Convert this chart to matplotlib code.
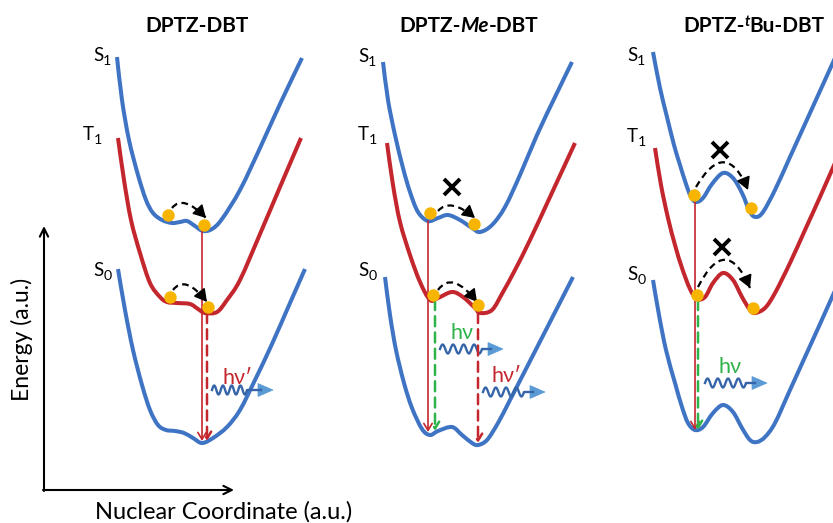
import numpy as np
import matplotlib.pyplot as plt
from matplotlib.path import Path
from matplotlib.patches import PathPatch, Polygon

plt.rcParams['font.family'] = ['Lato', 'DejaVu Sans']

BLUE = '#3f74c4'
RED = '#c4262e'
GOLD = '#f7b500'
GREEN = '#2db34a'
WAVE = '#3565a8'
WAVE_HEAD = '#5b9bd5'

# panel titles: (text, weight, style, size factor, baseline shift)
titles = [
    [('DPTZ-DBT', 'bold', 'normal', 1.0, 0)],
    [('DPTZ-', 'bold', 'normal', 1.0, 0), ('Me', 'bold', 'italic', 1.0, 0),
     ('-DBT', 'bold', 'normal', 1.0, 0)],
    [('DPTZ-', 'bold', 'normal', 1.0, 0), ('t', 'bold', 'italic', 0.7, -6),
     ('Bu-DBT', 'bold', 'normal', 1.0, 0)],
]
title_left = [145, 399, 683]

# potential energy curves (pixels, y downwards)
s1_x = [
    [117, 122, 129, 138, 146, 153, 162, 172, 180, 187, 195, 203, 212, 222, 240, 260, 280, 302],
    [383, 388, 395, 403, 410, 418, 428, 438, 448, 460, 472, 480, 492, 505, 520, 537, 555, 572],
    [653, 660, 667, 674, 680, 686, 691, 696, 703, 712, 723, 733, 742, 750, 756, 763, 775, 790, 805, 820, 835, 845],
]
s1_y = [
    [57, 100, 140, 175, 200, 213, 220, 223, 222, 221, 226, 231, 229, 219, 190, 148, 104, 58],
    [62, 100, 135, 168, 192, 212, 221, 218, 215, 220, 228, 232, 225, 207, 175, 135, 97, 62],
    [52, 88, 117, 145, 165, 184, 197, 202, 198, 184, 173, 178, 193, 212, 217, 212, 190, 157, 124, 91, 58, 36],
]
t1_x = [
    [118, 124, 131, 140, 150, 160, 167, 177, 190, 198, 205, 217, 227, 240, 260, 280, 301],
    [387, 393, 400, 410, 420, 430, 438, 452, 463, 475, 480, 492, 503, 515, 530, 550, 575],
    [655, 661, 668, 675, 682, 690, 697, 705, 713, 723, 733, 742, 750, 755, 765, 775, 790, 805, 820, 835, 845],
]
t1_y = [
    [138, 180, 220, 253, 283, 297, 302, 303, 304, 309, 313, 312, 300, 280, 234, 187, 138],
    [143, 185, 222, 255, 282, 300, 298, 292, 297, 308, 313, 310, 292, 270, 240, 197, 143],
    [148, 185, 218, 245, 268, 289, 299, 297, 283, 273, 280, 297, 310, 313, 308, 293, 263, 230, 197, 163, 141],
]
s0_x = [
    [118, 125, 133, 142, 150, 158, 166, 175, 184, 193, 202, 213, 227, 240, 255, 272, 290, 305],
    [385, 390, 396, 404, 412, 422, 430, 438, 452, 462, 472, 478, 487, 498, 510, 528, 550, 573],
    [653, 659, 666, 675, 682, 688, 695, 703, 713, 723, 733, 742, 750, 757, 765, 775, 790, 805, 820, 833, 845],
]
s0_y = [
    [269, 310, 350, 385, 410, 425, 430, 431, 433, 438, 443, 438, 427, 410, 380, 344, 303, 269],
    [277, 315, 350, 383, 408, 429, 435, 431, 427, 435, 443, 445, 440, 423, 400, 365, 322, 277],
    [280, 315, 350, 383, 407, 423, 430, 427, 413, 405, 412, 428, 440, 442, 437, 423, 390, 357, 324, 295, 269],
]

# excitons sitting in the wells
dot_x = [[168, 204, 170, 208], [430, 474, 433, 478], [694, 751, 697, 753]]
dot_y = [[215, 225, 297, 307], [213, 224, 295, 305], [195, 208, 295, 308]]

fig = plt.figure(figsize=(8.33, 5.23), dpi=100)
ax = fig.add_axes([0, 0, 1, 1])
ax.set_xlim(0, 833)
ax.set_ylim(523, 0)
ax.axis('off')
renderer = fig.canvas.get_renderer()


def smooth(xs, ys):
    # bezier path through the read points (catmull-rom handles)
    p = np.column_stack([xs, ys]).astype(float)
    n = len(p)
    verts = [p[0]]
    codes = [Path.MOVETO]
    for i in range(n - 1):
        a = p[i - 1] if i > 0 else p[i]
        d = p[i + 2] if i + 2 < n else p[i + 1]
        verts += [p[i] + (p[i + 1] - a) / 6, p[i + 1] - (d - p[i]) / 6, p[i + 1]]
        codes += [Path.CURVE4] * 3
    return Path(verts, codes)


def curve(xs, ys, color):
    ax.add_patch(PathPatch(smooth(xs, ys), fill=False, ec=color, lw=2.9,
                           capstyle='butt', joinstyle='round'))


def put_pieces(x, y, pieces, size, color='black'):
    for s, weight, style, rel, dy in pieces:
        t = ax.text(x, y + dy, s, fontsize=size * rel, fontweight=weight,
                    fontstyle=style, color=color, ha='left', va='baseline')
        x += t.get_window_extent(renderer).width


def state_label(x, y, letter, num):
    put_pieces(x, y, [(letter, 'normal', 'normal', 1.0, 0),
                      (num, 'normal', 'normal', 0.75, 4)], 13.5)


def hop(x0, y0, xc, yc, x1, y1):
    # dashed arc with a solid head
    p = Path([(x0, y0), (xc, yc), (x1, y1)], [Path.MOVETO, Path.CURVE3, Path.CURVE3])
    ax.add_patch(PathPatch(p, fill=False, ec='black', lw=1.6, ls=(0, (3, 2))))
    d = np.array([x1 - xc, y1 - yc], float)
    d = d / np.hypot(*d)
    ax.annotate('', xy=(x1, y1), xytext=(x1 - 7 * d[0], y1 - 7 * d[1]),
                arrowprops=dict(arrowstyle='-|>,head_length=0.75,head_width=0.42',
                                color='black', lw=1.2, shrinkA=0, shrinkB=0))


def drop(x, y0, y1, color, dashed, lw):
    ax.annotate('', xy=(x, y1), xytext=(x, y0),
                arrowprops=dict(arrowstyle='->,head_length=0.5,head_width=0.3',
                                color=color, lw=lw,
                                ls=(0, (4, 2.5)) if dashed else '-',
                                shrinkA=0, shrinkB=0))


def photon(x0, x1, y, x_end):
    # squiggle for emitted light
    xs = np.linspace(x0, x1, 120)
    ys = y - 4.5 * np.sin((xs - x0) / (x1 - x0) * 2 * np.pi * 4)
    ax.plot(np.r_[xs, x_end - 12], np.r_[ys, y], color=WAVE, lw=1.7)
    ax.add_patch(Polygon([(x_end - 15, y - 6.5), (x_end, y), (x_end - 15, y + 6.5)],
                         closed=True, fc=WAVE_HEAD, ec=WAVE_HEAD, lw=0.5))


# energy diagrams
for i in range(3):
    curve(s0_x[i], s0_y[i], BLUE)
    curve(t1_x[i], t1_y[i], RED)
    curve(s1_x[i], s1_y[i], BLUE)
    put_pieces(title_left[i], 32, titles[i], 15)

# vertical transitions
drop(202, 231, 441, RED, False, 1.2)
drop(207, 313, 441, RED, True, 1.8)
drop(428, 221, 432, RED, False, 1.2)
drop(435, 300, 431, GREEN, True, 1.8)
drop(478, 313, 443, RED, True, 1.8)
drop(695, 202, 430, RED, False, 1.2)
drop(698, 300, 430, GREEN, True, 1.8)

for i in range(3):
    ax.scatter(dot_x[i], dot_y[i], s=80, color=GOLD, zorder=5, lw=0)

# hops between wells
hop(172, 208, 183, 194, 206, 218)
hop(173, 290, 185, 274, 207, 302)
hop(438, 211, 450, 197, 475, 218)
hop(438, 290, 452, 270, 477, 302)
hop(696, 187, 726, 136, 748, 190)
hop(698, 287, 726, 232, 750, 288)

# forbidden hops
for x, y in [(452, 187), (720, 150), (722, 247)]:
    ax.plot(x, y, marker='x', ms=11, mew=2.8, color='black')

# emitted photons
photon(212, 247, 390, 273)
ax.text(223, 384, 'hν′', fontsize=15.5, color=RED, ha='left', va='baseline')
photon(440, 482, 349, 503)
ax.text(451, 339, 'hν', fontsize=15.5, color=GREEN, ha='left', va='baseline')
photon(483, 524, 392, 545)
ax.text(492, 382, 'hν′', fontsize=15.5, color=RED, ha='left', va='baseline')
photon(705, 746, 383, 767)
ax.text(719, 373, 'hν', fontsize=15.5, color=GREEN, ha='left', va='baseline')

# state labels
state_label(93, 61, 'S', '1')
state_label(83, 140, 'T', '1')
state_label(93, 276, 'S', '0')
state_label(358, 62, 'S', '1')
state_label(358, 140, 'T', '1')
state_label(358, 276, 'S', '0')
state_label(627, 61, 'S', '1')
state_label(627, 142, 'T', '1')
state_label(627, 280, 'S', '0')

# axes arrows
ax.annotate('', xy=(44, 226), xytext=(44, 491),
            arrowprops=dict(arrowstyle='->,head_length=0.6,head_width=0.3', color='black', lw=1.5, shrinkA=0, shrinkB=0))
ax.annotate('', xy=(234, 490), xytext=(43, 490),
            arrowprops=dict(arrowstyle='->,head_length=0.6,head_width=0.3', color='black', lw=1.5, shrinkA=0, shrinkB=0))
ax.text(95, 519, 'Nuclear Coordinate (a.u.)', fontsize=17, ha='left', va='baseline')
ax.text(29, 339, 'Energy (a.u.)', fontsize=16.5, rotation=90, ha='center', va='baseline',
        rotation_mode='anchor')

fig.savefig('out.png', dpi=100)
